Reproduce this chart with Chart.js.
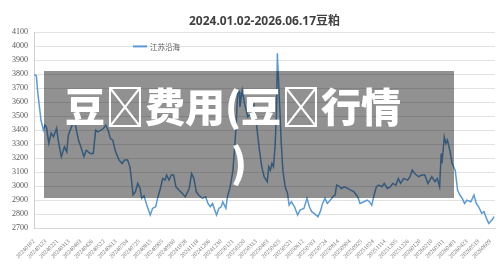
<!DOCTYPE html>
<html>
<head>
<meta charset="utf-8">
<script src="https://cdn.jsdelivr.net/npm/chart.js"></script>
<style>
  body { margin: 0; background: #fff; }
  #wrap { position: relative; width: 500px; height: 270px; }
  #banner {
    position: absolute; left: 44px; top: 71px; width: 410px; height: 127px;
    box-sizing: border-box; padding: 6px 0 0 21px;
    background: rgba(0, 0, 0, 0.43); color: #fff;
    font: 900 40px "Noto Sans CJK SC", sans-serif; line-height: 56px;
    white-space: nowrap; pointer-events: none;
  }
  #banner span { margin-left: 166px; }
</style>
</head>
<body>
<div id="wrap">
  <canvas id="myChart"></canvas>
  <div id="banner">豆&#xE000;费用(豆&#xE000;行情<br><span>)</span></div>
</div>
<script>
// Chart data
const chartTitle = '2024.01.02-2026.06.17豆粕';
const seriesName = '江苏沿海';

// x axis labels, one every 15 trading days
const tickDates = [
  '20240102', '20240123', '20240221', '20240313', '20240403', '20240426', '20240522', '20240613',
  '20240704', '20240725', '20240815', '20240905', '20240930', '20241028', '20241118', '20241206',
  '20241230', '20250121', '20250220', '20250313', '20250403', '20250425', '20250521', '20250612',
  '20250703', '20250724', '20250814', '20250904', '20250925', '20251024', '20251114', '20251205',
  '20251226', '20260120', '20260210', '20260311', '20260401', '20260423', '20260519', '20260609'
];
const lastDay = 591;

// trading day index and price
const tradingDay = [
  0, 3, 5, 9, 12, 14, 16, 19, 22, 25, 29, 31, 35, 39, 42, 44, 48, 50, 53, 57,
  60, 64, 67, 72, 76, 79, 82, 89, 92, 95, 98, 101, 104, 109, 113, 116, 120, 123, 125, 127,
  130, 133, 136, 138, 141, 144, 149, 152, 156, 159, 162, 165, 168, 170, 173, 176, 179, 182, 186, 190,
  194, 199, 202, 205, 208, 211, 216, 220, 223, 226, 229, 231, 234, 237, 240, 242, 246, 248, 251, 253,
  255, 257, 259, 261, 263, 264, 267, 270, 274, 278, 282, 285, 289, 292, 295, 299, 301, 303, 305, 307,
  309, 311, 312, 315, 317, 319, 322, 325, 327, 330, 334, 338, 341, 346, 350, 353, 356, 359, 364, 367,
  370, 373, 376, 380, 383, 386, 388, 391, 394, 398, 402, 406, 410, 415, 418, 423, 427, 430, 433, 436,
  439, 442, 446, 449, 453, 457, 460, 464, 467, 470, 474, 479, 482, 485, 488, 493, 497, 501, 505, 510,
  514, 517, 520, 522, 523, 526, 528, 530, 533, 536, 540, 543, 546, 549, 552, 555, 560, 564, 567, 570,
  574, 577, 580, 583, 587, 590
];
const price = [
  3800, 3790, 3662, 3471, 3400, 3436, 3420, 3307, 3379, 3352, 3414, 3329, 3209, 3281, 3245, 3364, 3424, 3450, 3440, 3329,
  3281, 3210, 3257, 3233, 3233, 3400, 3388, 3412, 3436, 3400, 3340, 3329, 3257, 3186, 3162, 3186, 3186, 3138, 3043, 2936,
  2960, 3019, 2983, 2912, 2930, 2876, 2793, 2840, 2852, 2924, 2983, 3055, 3043, 3079, 3043, 3079, 3079, 2995, 2971, 2948,
  2924, 2983, 3090, 3055, 2960, 2936, 2912, 2924, 2876, 2852, 2876, 2840, 2793, 2840, 2852, 2888, 2840, 2924, 2983, 3043,
  3114, 3257, 3424, 3662, 3674, 3567, 3686, 3590, 3495, 3519, 3580, 3450, 3257, 3138, 3067, 3031, 3138, 3114, 3162, 3138,
  3281, 3543, 3950, 3567, 3305, 3114, 2995, 2948, 2864, 2888, 2852, 2793, 2829, 2840, 2912, 2852, 2817, 2805, 2781, 2817,
  2876, 2912, 2876, 2900, 2924, 2936, 3007, 3000, 2983, 2995, 2983, 2971, 2960, 2924, 2876, 2888, 2900, 2888, 2864, 2936,
  2995, 3007, 2995, 3019, 2983, 2995, 3019, 3007, 3055, 3019, 3055, 3043, 3067, 3114, 3090, 3067, 3079, 3079, 3019, 3067,
  3031, 3055, 2995, 3233, 3162, 3352, 3305, 3329, 3257, 3162, 3114, 2971, 2936, 2912, 2876, 2900, 2888, 2936, 2876, 2852,
  2805, 2817, 2769, 2733, 2757, 2781
];

// Small legend drawn inside the plot, top left
const innerLegend = {
  id: 'innerLegend',
  afterDatasetsDraw(chart) {
    let c = chart.ctx;
    let ds = chart.data.datasets[0];
    let x = chart.chartArea.left + 99;
    let y = chart.chartArea.top + 14;
    c.save();
    c.strokeStyle = ds.borderColor;
    c.lineWidth = 2;
    c.beginPath();
    c.moveTo(x, y);
    c.lineTo(x + 14, y);
    c.stroke();
    c.fillStyle = '#595959';
    c.font = '7.5px "Noto Sans CJK SC"';
    c.textBaseline = 'middle';
    c.fillText(ds.label, x + 17, y + 0.5);
    c.restore();
  }
};

let ctx = document.getElementById('myChart').getContext('2d');
let chart = new Chart(ctx, {
  type: 'line',
  data: {
    datasets: [{
      label: seriesName,
      data: tradingDay.map((d, i) => ({ x: d, y: price[i] })),
      borderColor: '#5b9bd5',
      borderWidth: 1.5,
      pointRadius: 0,
      tension: 0
    }]
  },
  options: {
    animation: false,
    responsive: true,
    maintainAspectRatio: false,
    layout: { padding: { left: 0, right: 5 } },
    plugins: {
      legend: { display: false },
      tooltip: { enabled: false },
      title: {
        display: true,
        fullSize: false,
        text: chartTitle,
        color: '#404040',
        font: { size: 12, weight: 'bold', family: '"Noto Sans", "Noto Sans CJK SC", sans-serif' },
        padding: { top: 14, bottom: 4 }
      }
    },
    scales: {
      x: {
        type: 'linear',
        min: 0,
        max: lastDay,
        grid: { display: false },
        border: { color: '#d9d9d9' },
        ticks: {
          stepSize: 15,
          autoSkip: false,
          includeBounds: false,
          maxTicksLimit: 100,
          minRotation: 45,
          maxRotation: 45,
          padding: 2,
          color: '#7a7a7a',
          font: { size: 6, family: '"Liberation Serif", serif' },
          callback: (v) => (v % 15 === 0 ? tickDates[v / 15] : '')
        },
        afterFit: (s) => { s.height = 42; }
      },
      y: {
        min: 2700,
        max: 4100,
        grid: { color: '#e2e2e2', drawTicks: false },
        border: { color: '#d0d0d0' },
        ticks: {
          stepSize: 100,
          maxTicksLimit: 20,
          padding: 6,
          color: '#595959',
          font: { size: 8, family: '"Liberation Serif", serif' },
          callback: (v) => String(v)
        },
        afterFit: (s) => { s.width = 34; }
      }
    }
  },
  plugins: [innerLegend]
});
</script>
</body>
</html>
